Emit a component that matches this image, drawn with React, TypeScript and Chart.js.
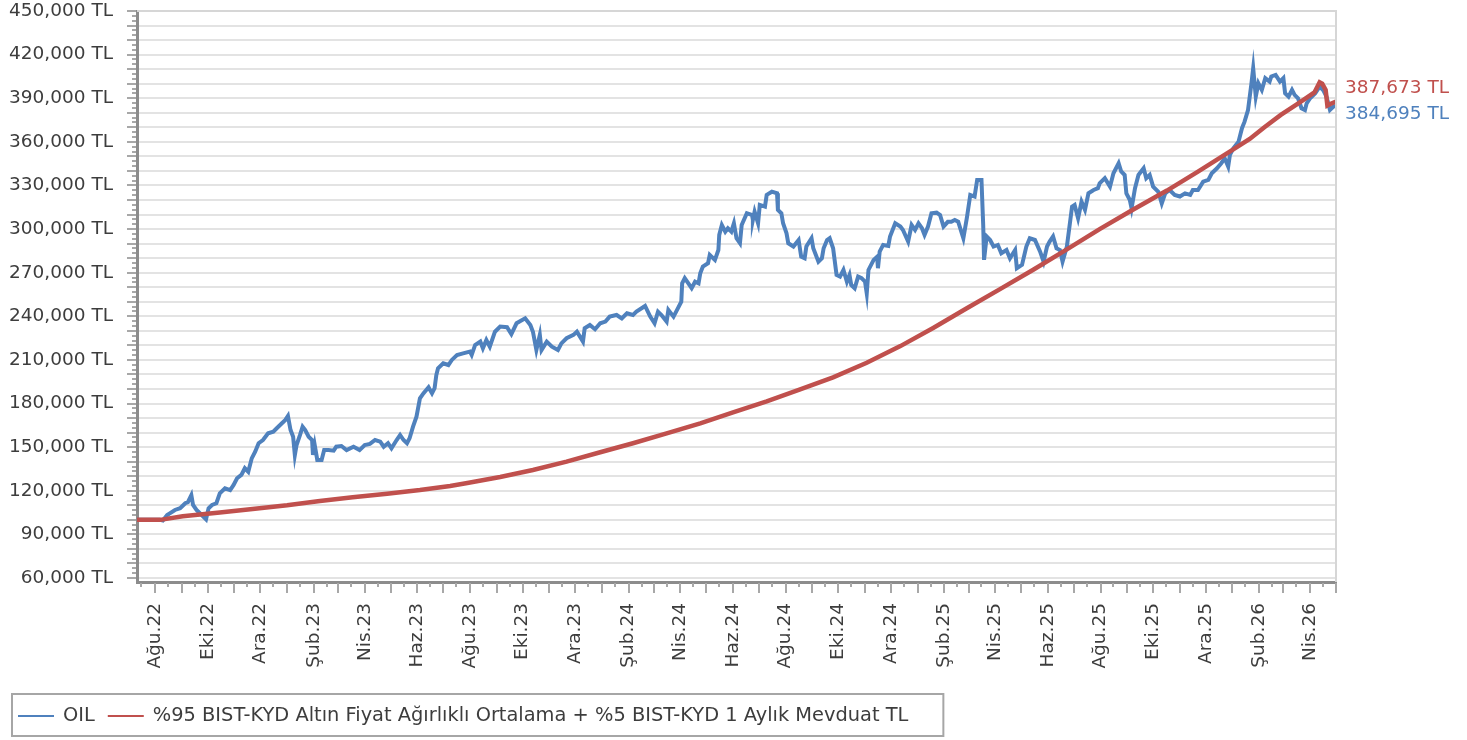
import React, { useEffect, useRef } from 'react';
import { Chart, registerables } from 'chart.js';

Chart.register(...registerables);

// Day 0 = 2022-07-11 (first observation); values in TL
const START_DATE = '2022-07-11';
const END_DATE = '2026-05-01';

const oilDay = [
  0, 27, 30, 35, 38, 44, 50, 56, 59, 63, 65, 69, 75, 80, 83, 87, 92, 96, 102, 108,
  112, 116, 121, 125, 129, 133, 137, 141, 146, 152, 158, 162, 168, 172, 175, 178, 181, 183, 185, 189,
  192, 195, 199, 203, 204, 206, 209, 214, 217, 222, 228, 231, 237, 243, 251, 258, 264, 270, 276, 282,
  286, 291, 295, 301, 305, 309, 313, 316, 320, 324, 328, 332, 338, 342, 345, 347, 349, 355, 361, 365,
  371, 378, 386, 388, 392, 398, 401, 405, 409, 415, 421, 429, 434, 440, 450, 456, 459, 463, 467, 469,
  475, 481, 488, 492, 498, 506, 510, 517, 519, 525, 531, 537, 543, 548, 556, 562, 568, 575, 579, 589,
  595, 600, 604, 608, 614, 616, 622, 627, 631, 632, 635, 643, 647, 651, 653, 656, 662, 664, 670, 674,
  675, 678, 682, 685, 689, 692, 695, 699, 701, 707, 713, 714, 716, 720, 722, 728, 730, 736, 742, 743,
  747, 749, 753, 755, 761, 767, 770, 774, 776, 782, 784, 790, 794, 796, 800, 803, 807, 811, 815, 819,
  823, 826, 828, 832, 836, 840, 844, 846, 848, 854, 858, 859, 861, 865, 871, 873, 879, 885, 888, 894,
  898, 902, 906, 910, 913, 917, 921, 927, 931, 935, 940, 944, 948, 952, 958, 962, 966, 971, 974, 979,
  981, 982, 985, 989, 993, 998, 1002, 1008, 1012, 1018, 1020, 1026, 1031, 1035, 1041, 1047, 1051, 1055, 1058, 1062,
  1066, 1070, 1073, 1078, 1082, 1084, 1087, 1091, 1095, 1099, 1103, 1109, 1114, 1116, 1122, 1128, 1132, 1138, 1141, 1145,
  1147, 1151, 1153, 1157, 1161, 1167, 1170, 1174, 1178, 1184, 1188, 1192, 1197, 1203, 1209, 1215, 1221, 1224, 1230, 1236,
  1242, 1246, 1252, 1257, 1261, 1265, 1267, 1271, 1277, 1281, 1284, 1288, 1292, 1294, 1297, 1300, 1304, 1308, 1313, 1315,
  1320, 1325, 1329, 1331, 1335, 1339, 1342, 1346, 1350, 1354, 1356, 1360, 1366, 1371, 1375, 1379, 1383, 1387, 1390,
];

const oilTL = [
  100000, 100000, 99500, 103300, 104500, 106800, 108000, 111400, 112200, 117000, 110200, 106800, 103300, 100400, 108000, 110200, 111400, 118300, 121700, 120500,
  124000, 128600, 130900, 135500, 133100, 142300, 146900, 152700, 154900, 159500, 160600, 163000, 166400, 168700, 171400, 161800, 157200, 144600, 151500, 158400,
  164100, 161800, 157200, 154900, 144600, 151500, 141200, 141200, 148000, 148000, 147600, 150300, 150800, 148000, 150300, 148000, 151500, 152200, 154900, 153800,
  150300, 152700, 149200, 154900, 158400, 154900, 152700, 156100, 164100, 171000, 183600, 187000, 191200, 187000, 190500, 199600, 204300, 207700, 206500, 210000,
  213400, 214500, 215700, 213400, 220300, 222600, 218000, 223700, 219100, 229400, 232900, 232500, 227700, 235200, 238600, 234000, 229400, 216800, 227200, 216800,
  222600, 219100, 216800, 221400, 224900, 227200, 229400, 222600, 231800, 234000, 231100, 235200, 236400, 239800, 240900, 238600, 242100, 240900, 243200, 247100,
  239800, 235200, 243200, 240900, 236400, 244400, 239800, 245500, 250100, 262700, 266200, 259300, 263800, 262700, 269600, 274200, 276500, 282200, 278800, 285600,
  296000, 302800, 298200, 300600, 298200, 304000, 293700, 290300, 302800, 310900, 309700, 306300, 312000, 304000, 316600, 315500, 323500, 325700, 324600, 313200,
  310900, 304000, 297100, 290300, 288000, 292500, 281000, 279900, 288000, 293700, 286800, 277600, 279900, 286800, 292500, 293700, 286800, 268400, 267300, 271900,
  263800, 268400, 261600, 259300, 267300, 266200, 263800, 255800, 271900, 278800, 281000, 273100, 284500, 289100, 288400, 294900, 304000, 301700, 299400, 291400,
  302800, 299400, 304000, 300600, 296000, 301700, 310900, 311300, 309700, 301700, 305000, 305100, 306300, 305100, 293700, 307500, 323500, 322400, 333800, 333800,
  302800, 278800, 294900, 292500, 288000, 289100, 283400, 285600, 279900, 285600, 273100, 275400, 288000, 293700, 292500, 284500, 277600, 288000, 291400, 294900,
  286800, 285600, 277600, 288000, 306300, 315400, 316600, 307500, 318800, 313200, 324600, 326900, 328100, 331500, 335000, 329200, 338400, 345300, 339600, 337200,
  324600, 320000, 314300, 328100, 337200, 341800, 335000, 337200, 329200, 325700, 317700, 324600, 326900, 323500, 322400, 324600, 323500, 326900, 326900, 332600,
  333800, 338400, 341800, 345300, 348700, 343000, 351000, 355600, 360100, 369400, 373900, 381900, 400300, 410600, 391100, 400300, 395700, 403800, 401400, 405000,
  406100, 401400, 403800, 393400, 391100, 395700, 392300, 390000, 383100, 381900, 386500, 390000, 393400, 398000, 395700, 391100, 381900, 384200, 384695,
];

const benchDay = [
  0, 27, 53, 96, 134, 174, 212, 250, 290, 328, 363, 383, 421, 459, 498, 537, 575, 614, 653, 691,
  730, 768, 807, 846, 885, 923, 962, 1000, 1039, 1078, 1116, 1155, 1194, 1230, 1270, 1290, 1307, 1326, 1345, 1365,
  1371, 1374, 1378, 1380, 1384, 1390,
];

const benchTL = [
  100000, 100000, 102500, 105000, 107500, 110000, 113000, 115500, 118000, 120500, 123300, 125300, 129500, 134300, 140000, 146500, 152700, 159500, 166400, 174000,
  181500, 189500, 198000, 208000, 219500, 232000, 245500, 258500, 272000, 286000, 300000, 313500, 326500, 339500, 354500, 362000, 370000, 378500, 386000, 394000,
  401000, 400000, 395700, 385000, 386200, 387673,
];

const xTickDates = [
  '2022-08-01', '2022-10-01', '2022-12-01', '2023-02-01', '2023-04-01', '2023-06-01', '2023-08-01', '2023-10-01',
  '2023-12-01', '2024-02-01', '2024-04-01', '2024-06-01', '2024-08-01', '2024-10-01', '2024-12-01', '2025-02-01',
  '2025-04-01', '2025-06-01', '2025-08-01', '2025-10-01', '2025-12-01', '2026-02-01', '2026-04-01',
];
const xTickLabels = [
  'Ağu.22', 'Eki.22', 'Ara.22', 'Şub.23', 'Nis.23', 'Haz.23', 'Ağu.23', 'Eki.23',
  'Ara.23', 'Şub.24', 'Nis.24', 'Haz.24', 'Ağu.24', 'Eki.24', 'Ara.24', 'Şub.25',
  'Nis.25', 'Haz.25', 'Ağu.25', 'Eki.25', 'Ara.25', 'Şub.26', 'Nis.26',
];

const yLabelValues = [60000, 90000, 120000, 150000, 180000, 210000, 240000, 270000, 300000, 330000, 360000, 390000, 420000, 450000];

const SERIES_NAMES = ['OIL', '%95 BIST-KYD Altın Fiyat Ağırlıklı Ortalama + %5 BIST-KYD 1 Aylık Mevduat TL'];
const BLUE = '#4f81bd';
const RED = '#c0504d';
const FONT = '"DejaVu Sans", Verdana, sans-serif';
const TEXT = '#3d3d3d';

const DAY_MS = 86400000;
const toDay = (iso: string) => (Date.parse(iso + 'T00:00:00Z') - Date.parse(START_DATE + 'T00:00:00Z')) / DAY_MS;
const fmtTL = (v: number) => String(Math.round(v)).replace(/\B(?=(\d{3})+(?!\d))/g, ',') + ' TL';

const axisDecor = {
  id: 'axisDecor',
  afterDraw(chart: any) {
    const { ctx, chartArea } = chart;
    const xs = chart.scales.x;
    const ys = chart.scales.y;
    ctx.save();
    // top & right frame
    ctx.strokeStyle = '#d6d6d6';
    ctx.lineWidth = 2;
    ctx.beginPath();
    ctx.moveTo(chartArea.left, chartArea.top);
    ctx.lineTo(chartArea.right, chartArea.top);
    ctx.lineTo(chartArea.right, chartArea.bottom);
    ctx.stroke();
    // y ticks (major every 10k, minor between)
    ctx.strokeStyle = '#a8a8a8';
    ctx.lineWidth = 2;
    for (let i = 0; i <= 117; i++) {
      const v = 60000 + (i * 10000) / 3;
      const py = Math.round(ys.getPixelForValue(v));
      const len = i % 3 === 0 ? 10 : 5;
      ctx.beginPath();
      ctx.moveTo(chartArea.left - len, py);
      ctx.lineTo(chartArea.left - 1, py);
      ctx.stroke();
    }
    // x ticks: month starts long, mid-months short
    for (let y = 2022; y <= 2026; y++) {
      for (let m = 0; m < 12; m++) {
        const mm = String(m + 1).padStart(2, '0');
        const d1 = toDay(`${y}-${mm}-01`);
        const d16 = toDay(`${y}-${mm}-16`);
        [[d1, 10], [d16, 4]].forEach(([d, len]) => {
          if (d < 0 || d > xs.max) return;
          const px = Math.round(xs.getPixelForValue(d));
          ctx.beginPath();
          ctx.moveTo(px, chartArea.bottom + 1);
          ctx.lineTo(px, chartArea.bottom + 1 + len);
          ctx.stroke();
        });
      }
    }
    // end value labels
    const mo = chart.getDatasetMeta(0);
    const mb = chart.getDatasetMeta(1);
    const po = mo.data[mo.data.length - 1];
    const pb = mb.data[mb.data.length - 1];
    const mid = (po.y + pb.y) / 2;
    ctx.font = `18.5px ${FONT}`;
    ctx.textBaseline = 'middle';
    ctx.textAlign = 'left';
    ctx.fillStyle = RED;
    ctx.fillText(fmtTL(benchTL[benchTL.length - 1]), chartArea.right + 9, mid - 16);
    ctx.fillStyle = BLUE;
    ctx.fillText(fmtTL(oilTL[oilTL.length - 1]), chartArea.right + 9, mid + 10);
    // legend
    ctx.font = `19.4px ${FONT}`;
    const ly = 716;
    let lx = 18;
    const colors = [BLUE, RED];
    SERIES_NAMES.forEach((name, i) => {
      ctx.strokeStyle = colors[i];
      ctx.lineWidth = 2;
      ctx.beginPath();
      ctx.moveTo(lx, ly);
      ctx.lineTo(lx + 36, ly);
      ctx.stroke();
      lx += 45;
      ctx.fillStyle = TEXT;
      ctx.fillText(name, lx, ly);
      lx += ctx.measureText(name).width + 13;
    });
    ctx.strokeStyle = '#a6a6a6';
    ctx.lineWidth = 2;
    ctx.strokeRect(12, 694, lx - 13 + 35 - 12, 42);
    ctx.restore();
  },
};

export default function App() {
  const ref = useRef<HTMLCanvasElement | null>(null);
  useEffect(() => {
    document.body.style.margin = '0';
    const canvas = ref.current;
    if (!canvas) return;
    const chart = new Chart(canvas, {
      type: 'line',
      data: {
        datasets: [
          {
            label: SERIES_NAMES[0],
            data: oilDay.map((d, i) => ({ x: d, y: oilTL[i] })),
            borderColor: BLUE,
            backgroundColor: BLUE,
            borderWidth: 4,
            pointRadius: 0,
            tension: 0,
            order: 2,
          },
          {
            label: SERIES_NAMES[1],
            data: benchDay.map((d, i) => ({ x: d, y: benchTL[i] })),
            borderColor: RED,
            backgroundColor: RED,
            borderWidth: 4.5,
            pointRadius: 0,
            tension: 0,
            order: 1,
          },
        ],
      },
      options: {
        animation: false,
        responsive: true,
        maintainAspectRatio: false,
        layout: { padding: { top: 11, right: 131, left: 0, bottom: 58 } },
        plugins: { legend: { display: false }, tooltip: { enabled: false } },
        scales: {
          x: {
            type: 'linear',
            min: 0,
            max: toDay(END_DATE),
            afterBuildTicks: (s: any) => {
              s.ticks = xTickDates.map((d) => ({ value: toDay(d) }));
            },
            afterFit: (s: any) => {
              s.height = 100;
              s.paddingLeft = 0;
              s.paddingRight = 0;
              s.paddingTop = 0;
              s.paddingBottom = 0;
            },
            ticks: {
              autoSkip: false,
              minRotation: 90,
              maxRotation: 90,
              padding: 21,
              color: TEXT,
              font: { family: FONT, size: 18.5 },
              callback: (_v: any, i: number) => xTickLabels[i],
            },
            grid: { drawOnChartArea: false, drawTicks: false },
            border: { color: '#8c8c8c', width: 3 },
          },
          y: {
            type: 'linear',
            min: 57250,
            max: 450000,
            afterBuildTicks: (s: any) => {
              const t = [];
              for (let v = 60000; v <= 450000; v += 10000) t.push({ value: v });
              s.ticks = t;
            },
            afterFit: (s: any) => {
              s.width = 137;
              s.paddingTop = 0;
              s.paddingBottom = 0;
              s.paddingLeft = 0;
              s.paddingRight = 0;
            },
            ticks: {
              autoSkip: false,
              padding: 24,
              color: TEXT,
              font: { family: FONT, size: 18.5 },
              callback: (v: any) => (yLabelValues.includes(Number(v)) ? fmtTL(Number(v)) : ''),
            },
            grid: { color: '#e3e3e3', lineWidth: 2, drawTicks: false },
            border: { color: '#8c8c8c', width: 3 },
          },
        },
      },
      plugins: [axisDecor],
    });
    return () => chart.destroy();
  }, []);
  return (
    <div style={{ width: '1467px', height: '740px', position: 'relative' }}>
      <canvas ref={ref} />
    </div>
  );
}
